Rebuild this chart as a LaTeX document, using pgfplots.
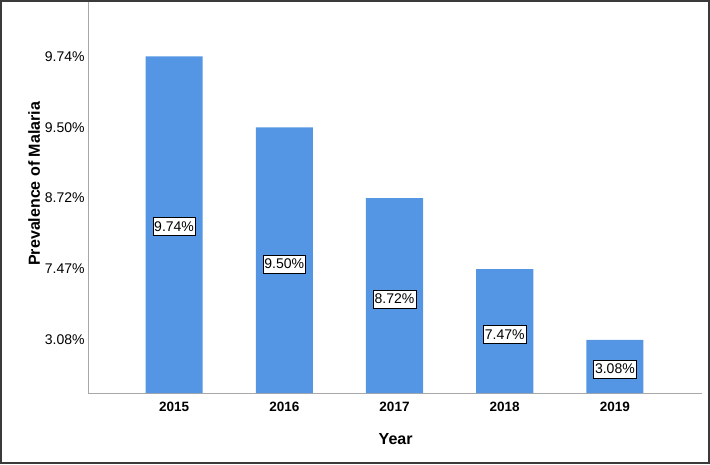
\documentclass[border=0pt]{standalone}
\usepackage{fontspec}
\setmainfont{Liberation Sans}
\usepackage{pgfplots}
\pgfplotsset{compat=1.18}
\definecolor{barblue}{HTML}{5596E4}
\definecolor{axisgray}{HTML}{A8A8A8}
\definecolor{framegray}{HTML}{3A3A3A}

\begin{document}
\begin{tikzpicture}
\begin{axis}[
    name=ax,
    at={(0,0)}, anchor=south west,
    scale only axis,
    width=613pt, height=392pt,
    xmin=-0.78, xmax=4.79,
    ymin=0.25, ymax=5.79,
    axis x line=bottom, axis y line=left,
    axis line style={axisgray, line width=0.9pt, -},
    major tick length=0pt,
    xtick={0,1,2,3,4},
    xticklabels={2015,2016,2017,2018,2019},
    x tick label style={font=\bfseries\fontsize{13.5}{13.5}\selectfont, yshift=-6pt},
    ytick={1,2,3,4,5},
    % the source chart spaces the five values evenly, so rank 1..5 is plotted
    yticklabels={3.08\%,7.47\%,8.72\%,9.50\%,9.74\%},
    y tick label style={font=\fontsize{14}{14}\selectfont},
    xlabel={Year},
    ylabel={Prevalence of Malaria},
    xlabel style={font=\bfseries\fontsize{16}{16}\selectfont,
        at={(axis description cs:0.501,-0.117)}, anchor=center},
    ylabel style={font=\bfseries\fontsize{16}{16}\selectfont,
        at={(axis description cs:-0.088,0.533)}, anchor=center},
    clip=false,
]
\addplot[ybar, bar width=57pt, fill=barblue, draw=none]
    coordinates {(0,5) (1,4) (2,3) (3,2) (4,1)};
\addplot[draw=none, nodes near coords, point meta=explicit symbolic,
    nodes near coords style={draw=black, fill=white, anchor=center,
        inner xsep=1.5pt, inner ysep=4pt, font=\fontsize{14}{14}\selectfont}]
    coordinates {
    (0,2.60) [9.74\%]
    (1,2.07) [9.50\%]
    (2,1.58) [8.72\%]
    (3,1.08) [7.47\%]
    (4,0.59) [3.08\%]
    };
\end{axis}
\draw[framegray, line width=2pt]
    ([shift={(-87pt,-70pt)}]ax.south west) rectangle ([shift={(620pt,391pt)}]ax.south west);
\end{tikzpicture}
\end{document}
